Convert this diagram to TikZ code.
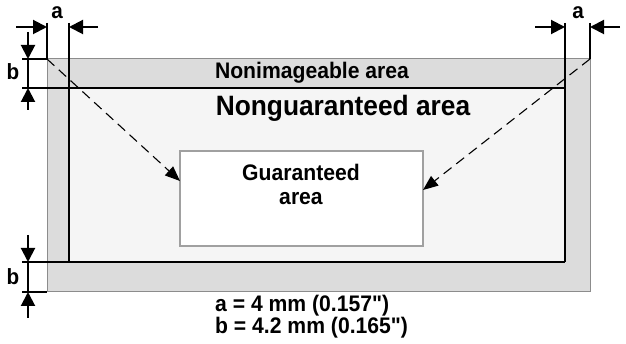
\documentclass[tikz,border=0pt]{standalone}
\usepackage{fontspec}
\newfontfamily\arialfont{Liberation Sans}[FakeStretch=0.94]
\usetikzlibrary{arrows.meta}
\definecolor{nonimg}{HTML}{DCDCDC}
\definecolor{nonimgedge}{HTML}{8C8C8C}
\definecolor{nonguar}{HTML}{F5F5F5}
\definecolor{guaredge}{HTML}{A0A0A0}
\tikzset{
  dimline/.style={line width=2pt, black},
  dimarrow/.style={line width=2pt, -{Triangle[length=14pt,width=14pt]}},
  dasharrow/.style={line width=1.1pt, dash pattern=on 10pt off 6pt, -{Triangle[length=15pt,width=12pt]}},
  lbl/.style={font=\arialfont\fontsize{22}{24}\selectfont\bfseries, inner sep=0pt},
  areatxt/.style={font=\arialfont\fontsize{22.5}{24}\selectfont\bfseries, inner sep=0pt, align=center},
  bigtxt/.style={font=\arialfont\fontsize{28}{30}\selectfont\bfseries, inner sep=0pt},
}
\begin{document}
\begin{tikzpicture}[x=1pt,y=-1pt]
\useasboundingbox (0,0) rectangle (626,344);
% outer nonimageable area
\filldraw[fill=nonimg, draw=nonimgedge, line width=1pt] (47,59) rectangle (590,292);
% nonguaranteed area
\fill[nonguar] (69,88) rectangle (565,262);
% guaranteed area
\node[draw=guaredge, fill=white, line width=1.5pt, minimum width=243pt, minimum height=95pt, inner sep=0pt] (guar) at (301.5,198.5) {};
\node[areatxt] (guartxt) at (301,184) {Guaranteed\\area};
% key coordinates
\coordinate (tlO) at (47,59);
\coordinate (trO) at (590,59);
\coordinate (tlO-up) at (47,23);
\coordinate (trO-up) at (590,23);
\coordinate (tlI-up) at (69,23);
\coordinate (trI-up) at (565,23);
\coordinate (blI) at (69,262);
\coordinate (brI) at (565,262);
\coordinate (tlI-left) at (22,88);
\coordinate (trI) at (565,88);
\coordinate (blI-left) at (22,262);
\coordinate (tlO-left) at (22,59);
\coordinate (blO) at (47,292);
\coordinate (blO-left) at (22,292);
% black extended lines of nonguaranteed area
\draw[dimline] (tlI-up) -- (blI);
\draw[dimline] (trI-up) -- (brI);
\draw[dimline] (tlI-left) -- (trI);
\draw[dimline] (blI-left) -- (brI);
% extension lines of outer area
\draw[dimline] (tlO-up) -- (tlO);
\draw[dimline] (trO-up) -- (trO);
\draw[dimline] (tlO-left) -- (tlO);
\draw[dimline] (blO-left) -- (blO);
% dimension arrows a (top left)
\coordinate (a1s) at (16,27); \coordinate (a1t) at (47,27);
\coordinate (a2s) at (98,27); \coordinate (a2t) at (69,27);
\draw[dimarrow] (a1s) -- (a1t);
\draw[dimarrow] (a2s) -- (a2t);
\node[lbl] (alabel1) at (57,13) {a};
% dimension arrows a (top right)
\coordinate (a3s) at (535,27); \coordinate (a3t) at (565,27);
\coordinate (a4s) at (620,27); \coordinate (a4t) at (590,27);
\draw[dimarrow] (a3s) -- (a3t);
\draw[dimarrow] (a4s) -- (a4t);
\node[lbl] (alabel2) at (578,13) {a};
% dimension b (top)
\coordinate (b1s) at (28,32); \coordinate (b1t) at (28,59);
\coordinate (b2s) at (28,110); \coordinate (b2t) at (28,88);
\draw[dimarrow] (b1s) -- (b1t);
\draw[dimarrow] (b2s) -- (b2t);
\draw[dimline] (b1t) -- (b2t);
\node[lbl] (blabel1) at (13,72) {b};
% dimension b (bottom)
\coordinate (b3s) at (28,235); \coordinate (b3t) at (28,262);
\coordinate (b4s) at (28,318); \coordinate (b4t) at (28,292);
\draw[dimarrow] (b3s) -- (b3t);
\draw[dimarrow] (b4s) -- (b4t);
\draw[dimline] (b3t) -- (b4t);
\node[lbl] (blabel2) at (13,277) {b};
% dashed arrows
\coordinate (gl) at (180,181);
\coordinate (gr) at (423,190);
\draw[dasharrow] (tlO) -- (gl);
\draw[dasharrow] (trO) -- (gr);
% texts
\node[areatxt] (nonimg) at (312,73) {Nonimageable area};
\node[bigtxt] (nonguar) at (343,108) {Nonguaranteed area};
\node[font=\arialfont\fontsize{22.5}{17}\selectfont\bfseries, inner sep=0pt, align=left, anchor=north west] (legend) at (215,295) {a = 4 mm (0.157")\\b = 4.2 mm (0.165")};
\end{tikzpicture}
\end{document}
